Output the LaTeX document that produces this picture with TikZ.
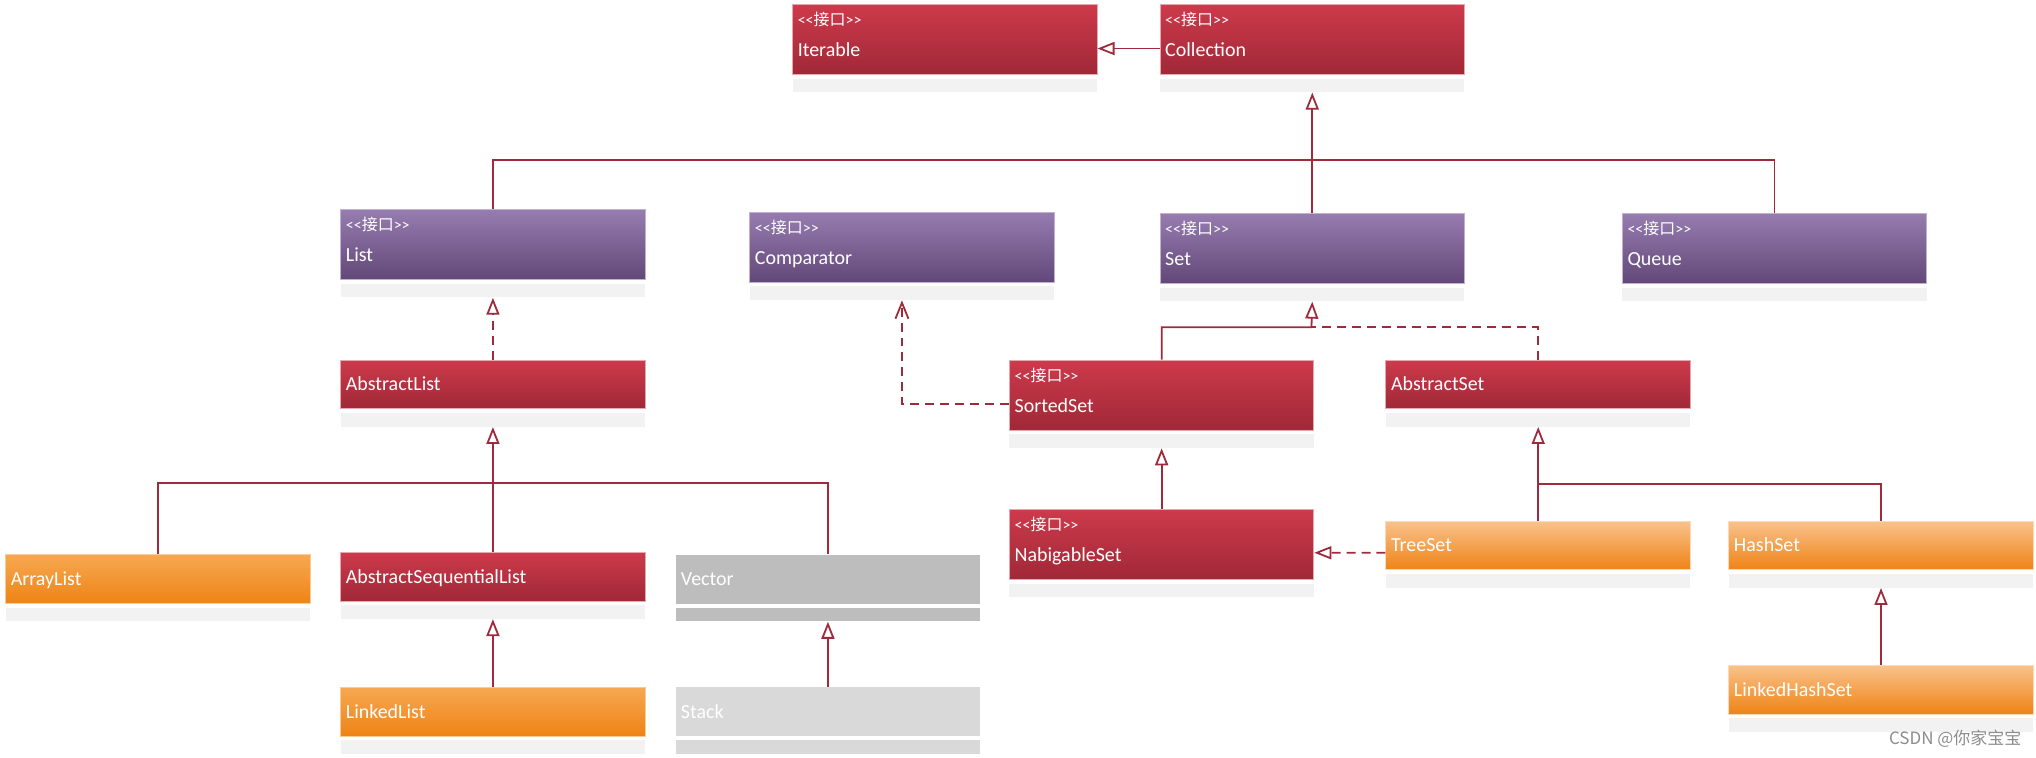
\documentclass[tikz,border=0pt]{standalone}
\usepackage{fontspec}
\setmainfont{Carlito}
\newfontfamily\cjk{Noto Sans CJK SC}
\usetikzlibrary{positioning, arrows.meta}

\definecolor{redtop}{HTML}{CD3A4B}
\definecolor{redbot}{HTML}{A02837}
\definecolor{purtop}{HTML}{977CB0}
\definecolor{purbot}{HTML}{624878}
\definecolor{orgtop}{HTML}{F6A851}
\definecolor{lorgtop}{HTML}{F9C28C}
\definecolor{orgbot}{HTML}{EF8315}
\definecolor{vgray}{HTML}{BDBDBD}
\definecolor{sgray}{HTML}{D9D9D9}
\definecolor{bandgray}{HTML}{F2F2F2}
\definecolor{linec}{HTML}{9E2A3B}

\newcommand{\ifacetag}{{\fontsize{8}{9}\selectfont <\kern0pt<{\cjk 接口}>\kern0pt>}}
\newcommand{\iname}[1]{\rule{0pt}{8pt}\ifacetag\\[3.6pt]#1\rule[-6.6pt]{0pt}{6.6pt}}

\tikzset{
  umlbox/.style={rectangle, anchor=north west, minimum width=152.4pt, text width=147.2pt, inner xsep=2.6pt, inner ysep=0pt, align=left, text=white, font=\fontsize{10}{12}\selectfont, line width=0.5pt},
  iface/.style={umlbox, minimum height=35.1pt},
  cls/.style={umlbox, minimum height=24.4pt, execute at begin node={\rule[-2.6pt]{0pt}{11.6pt}}},
  redbox/.style={top color=redtop, bottom color=redbot, draw=redtop!45!white},
  purbox/.style={top color=purtop, bottom color=purbot, draw=purtop!60!white},
  orgbox/.style={top color=orgtop, bottom color=orgbot, draw=orgtop!60!white},
  lorgbox/.style={top color=lorgtop, bottom color=orgbot, draw=lorgtop!60!white},
  band/.style={rectangle, fill=bandgray, minimum width=152.4pt, minimum height=6.8pt, inner sep=0pt},
  conn/.style={draw=linec, line width=0.9pt},
  arrow/.style={conn, -{Triangle[open, length=8.5pt, width=6.5pt, fill=white]}},
  realize/.style={arrow, dash pattern=on 4.5pt off 3pt},
  depend/.style={conn, dash pattern=on 4.5pt off 3pt, -{Straight Barb[length=8pt, width=6.5pt]}},
  wmark/.style={font=\cjk\fontsize{8.5}{10}\selectfont, text=black!45, inner sep=0pt},
}

\begin{document}
\begin{tikzpicture}[x=0.65pt, y=-0.65pt]
  \useasboundingbox (0,0) rectangle (1568,583);

  % top interfaces
  \node[iface, redbox] (iterable)   at (610, 3)   {\iname{Iterable}};
  \node[iface, redbox] (collection) at (893, 3)   {\iname{Collection}};

  % second row
  \node[iface, purbox] (list)       at (262, 161) {\iname{List}};
  \node[iface, purbox] (comparator) at (577, 163) {\iname{Comparator}};
  \node[iface, purbox] (set)        at (893, 164) {\iname{Set}};
  \node[iface, purbox] (queue)      at (1249, 164) {\iname{Queue}};

  % abstract classes and sub-interfaces
  \node[cls, redbox]   (abstractlist)    at (262, 277)  {AbstractList};
  \node[iface, redbox] (sortedset)       at (777, 277)  {\iname{SortedSet}};
  \node[cls, redbox]   (abstractset)     at (1067, 277) {AbstractSet};
  \node[iface, redbox] (nabigableset)    at (777, 392)  {\iname{NabigableSet}};
  \node[cls, redbox]   (abstractseqlist) at (262, 425)  {AbstractSequentialList};

  % implementations
  \node[cls, orgbox]  (arraylist)     at (4, 427)     {ArrayList};
  \node[cls, fill=vgray] (vector)     at (520, 427)   {Vector};
  \node[cls, lorgbox] (treeset)       at (1067, 401)  {TreeSet};
  \node[cls, lorgbox] (hashset)       at (1331, 401)  {HashSet};
  \node[cls, orgbox]  (linkedlist)    at (262, 529)   {LinkedList};
  \node[cls, fill=sgray] (stack)      at (520, 529)   {Stack};
  \node[cls, lorgbox] (linkedhashset) at (1331, 512)  {LinkedHashSet};

  % grey bands under the boxes
  \foreach \n in {iterable, collection, list, comparator, set, queue, abstractlist, sortedset, abstractset, nabigableset, abstractseqlist, arraylist, treeset, hashset, linkedlist, linkedhashset}
    \node[band, below=1.6pt of \n] (\n-b) {};
  \node[band, fill=vgray, below=1.6pt of vector] (vector-b) {};
  \node[band, fill=sgray, below=1.6pt of stack] (stack-b) {};

  \node[wmark, anchor=east] (csdn) at (1557, 569) {CSDN @你家宝宝};

  % junctions
  \coordinate (cbus) at (1010, 123);
  \coordinate (sbus) at (1010, 252);
  \coordinate (lbus) at (379, 372);
  \coordinate (abus) at (1184, 373);

  % connectors
  \draw[arrow] ([yshift=-4.55pt]collection.west) -- ([yshift=-4.55pt]iterable.east);
  \draw[conn] (list.north) |- (cbus) -| (queue.north);
  \draw[arrow] (set.north) -- (collection-b.south);
  \draw[realize] (abstractlist.north) -- (list-b.south);
  \draw[arrow] (sortedset.north) |- (sbus) -- (set-b.south);
  \draw[conn, dash pattern=on 4.5pt off 3pt] (abstractset.north) |- (sbus);
  \draw[depend] ([yshift=-4.55pt]sortedset.west) -| (comparator-b.south);
  \draw[conn] (arraylist.north) |- (lbus) -| (vector.north);
  \draw[arrow] (abstractseqlist.north) -- (abstractlist-b.south);
  \draw[arrow] (linkedlist.north) -- (abstractseqlist-b.south);
  \draw[arrow] (stack.north) -- (vector-b.south);
  \draw[arrow] (nabigableset.north) -- (sortedset-b.south);
  \draw[realize] ([yshift=-3.6pt]treeset.west) -- ([yshift=-4.1pt]nabigableset.east);
  \draw[conn] (hashset.north) |- (abus);
  \draw[arrow] (treeset.north) -- (abstractset-b.south);
  \draw[arrow] (linkedhashset.north) -- (hashset-b.south);
\end{tikzpicture}
\end{document}
